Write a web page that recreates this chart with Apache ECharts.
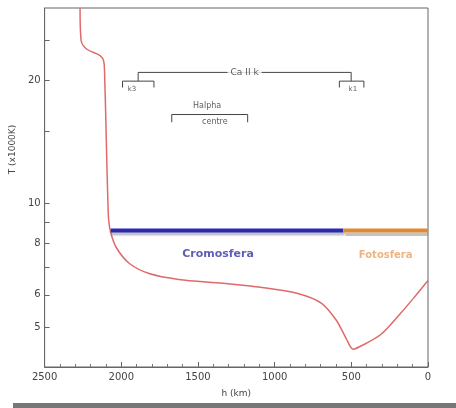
<!DOCTYPE html>
<html><head><meta charset="utf-8">
<script src="https://cdn.jsdelivr.net/npm/echarts@6/dist/echarts.min.js"></script>
<style>html,body{margin:0;padding:0;background:#fff}#c{width:456px;height:408px}</style>
</head><body><div id="c"></div>
<script>
// Temperature profile (T in 1000 K) vs height h (km)
var heightKm = [2269, 2262, 2224, 2140, 2114, 2108, 2101, 2095, 2088, 2082, 2069, 2031, 1947, 1819, 1626, 1337, 1080, 855, 694, 598, 534, 488, 437, 308, 180, 84, 0];
var tempK1000 = [30, 25, 23.8, 23.0, 22.2, 20.1, 16.1, 12.9, 10.3, 9.1, 8.5, 7.8, 7.15, 6.76, 6.54, 6.4, 6.25, 6.05, 5.72, 5.2, 4.7, 4.42, 4.5, 4.8, 5.4, 5.95, 6.5];
// Layer bars
var chromoRange = [2069, 553];
var photoRange = [553, 0];
var layerT = 8.6;
// Tick labels
var xTickLabels = [2500, 2000, 1500, 1000, 500, 0];
var yTickLabels = [5, 6, 8, 10, 20];
var yTickMarks = [5, 6, 7, 8, 9, 10, 15, 20, 25];
// Annotations (h, T)
var caMainH = [1890, 501]; var caMainT = [19.9, 20.9];
var k3H = [1992, 1787]; var k1H = [578, 418]; var kT = [19.2, 19.9];
var haH = [1671, 1176]; var haT = [15.8, 16.5];
var annoText = ['Ca II k', 'k3', 'k1', 'Halpha', 'centre', 'Cromosfera', 'Fotosfera'];
var annoH = [1196, 1930, 490, 1440, 1390, 1369, 276];
var annoT = [20.9, 19.05, 19.0, 17.3, 15.85, 7.55, 7.5];

function bracket(h, t) {
  return [[h[0], t[0]], [h[0], t[1]], [h[1], t[1]], [h[1], t[0]]];
}
var annoColor = '#444';
function annoLine(data) {
  return { type: 'line', data: data, symbol: 'none', silent: true,
    lineStyle: { color: annoColor, width: 1 }, z: 3 };
}
var curve = heightKm.map(function (h, i) { return [h, tempK1000[i]]; });
var textStyles = [
  { fontSize: 9, color: '#333', backgroundColor: '#fff', padding: [0, 3] },
  { fontSize: 7, color: '#333' },
  { fontSize: 7, color: '#333' },
  { fontSize: 8, color: '#333' },
  { fontSize: 8, color: '#333' },
  { fontSize: 11, color: '#3434a8', fontWeight: 'bold' },
  { fontSize: 10, color: '#eaa060', fontWeight: 'bold' }
];
var labelSeries = annoText.map(function (txt, i) {
  return { type: 'scatter', symbolSize: 0, silent: true, z: 6,
    data: [[annoH[i], annoT[i]]],
    label: Object.assign({ show: true, position: 'inside', formatter: txt, fontFamily: 'DejaVu Sans' }, textStyles[i]) };
});

var chart = echarts.init(document.getElementById('c'));
chart.setOption({
  animation: false,
  grid: { left: 39, right: 28, top: 8, bottom: 41, show: true, borderColor: '#666', borderWidth: 1 },
  xAxis: {
    type: 'value', inverse: true, min: 0, max: 2500, interval: 500,
    name: 'h (km)', nameLocation: 'middle', nameGap: 22,
    nameTextStyle: { fontSize: 9, color: '#444', fontFamily: 'DejaVu Sans' },
    axisLine: { onZero: false, lineStyle: { color: '#666' } },
    axisTick: { inside: true, length: 5, lineStyle: { color: '#666' } },
    minorTick: { show: true, splitNumber: 5, length: 3, lineStyle: { color: '#777' } },
    axisLabel: { fontSize: 10, color: '#444', margin: 5, fontFamily: 'DejaVu Sans',
      customValues: xTickLabels, formatter: function (v) { return String(v); } },
    splitLine: { show: false }
  },
  yAxis: {
    type: 'log', logBase: 10, min: 4, max: 30, position: 'left',
    name: 'T (x1000K)', nameLocation: 'middle', nameGap: 20,
    nameTextStyle: { fontSize: 9, color: '#444', fontFamily: 'DejaVu Sans', padding: [0, 0, 0, 76] },
    axisLine: { onZero: false, lineStyle: { color: '#666' } },
    axisTick: { inside: true, length: 5, customValues: yTickMarks, lineStyle: { color: '#666' } },
    axisLabel: { fontSize: 10, color: '#444', margin: 4, fontFamily: 'DejaVu Sans', customValues: yTickLabels },
    splitLine: { show: false }, minorTick: { show: false }
  },
  series: [
    { type: 'line', data: curve, symbol: 'none', smooth: 0.3, silent: true,
      lineStyle: { color: '#e06a6a', width: 1.5 }, z: 2 },
    { type: 'line', data: [[chromoRange[0], layerT], [chromoRange[1], layerT]], symbol: 'none', silent: true,
      lineStyle: { color: '#2a2ab0', width: 4, shadowColor: 'rgba(120,120,140,0.45)', shadowOffsetY: 3, shadowBlur: 1 }, z: 4 },
    { type: 'line', data: [[photoRange[0], layerT], [photoRange[1], layerT]], symbol: 'none', silent: true,
      lineStyle: { color: '#e08a30', width: 4, shadowColor: 'rgba(120,120,140,0.45)', shadowOffsetY: 3, shadowBlur: 1 }, z: 4 },
    annoLine(bracket(caMainH, caMainT)),
    annoLine(bracket(k3H, kT)),
    annoLine(bracket(k1H, kT)),
    annoLine(bracket(haH, haT))
  ].concat(labelSeries),
  graphic: [{ type: 'rect', shape: { x: 13, y: 403, width: 443, height: 5 }, style: { fill: '#777' }, silent: true }]
});
</script></body></html>
